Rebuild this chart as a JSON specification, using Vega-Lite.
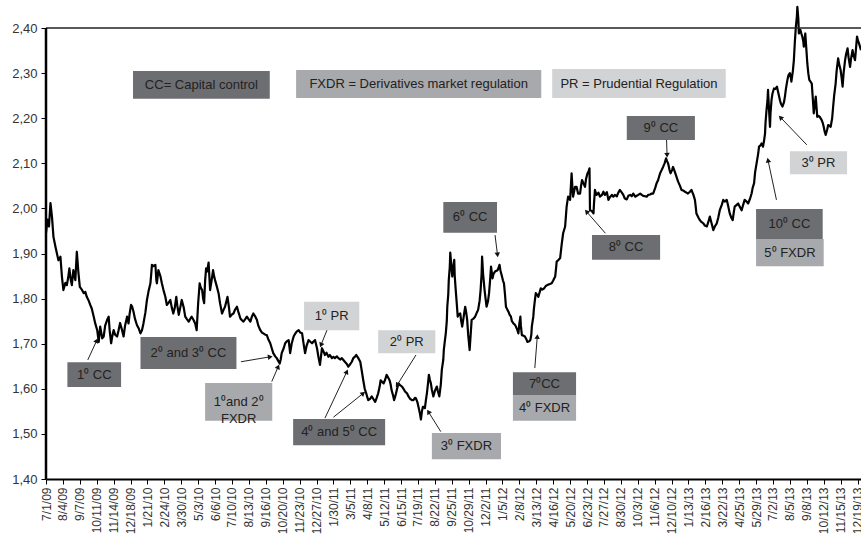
{
"$schema":"https://vega.github.io/schema/vega-lite/v6.json",
"width":815,"height":478,
"autosize":{"type":"none"},
"padding":{"left":46,"top":1,"right":0,"bottom":61},
"config":{"font":"Liberation Sans","view":{"stroke":null}},
"datasets":{
"brl":[
{"day":0,"rate":1.945},{"day":3,"rate":1.975},{"day":6,"rate":1.96},{"day":9,"rate":2.012},{"day":12,"rate":1.982},{"day":15,"rate":1.937},{"day":19,"rate":1.915},{"day":22,"rate":1.9},{"day":25,"rate":1.885},{"day":29,"rate":1.893},{"day":32,"rate":1.849},{"day":35,"rate":1.819},{"day":39,"rate":1.835},{"day":42,"rate":1.83},{"day":45,"rate":1.85},{"day":47,"rate":1.867},{"day":50,"rate":1.84},{"day":52,"rate":1.83},{"day":55,"rate":1.863},{"day":59,"rate":1.841},{"day":62,"rate":1.904},{"day":65,"rate":1.86},{"day":68,"rate":1.826},{"day":72,"rate":1.82},{"day":76,"rate":1.812},{"day":79,"rate":1.815},{"day":82,"rate":1.804},{"day":86,"rate":1.795},{"day":89,"rate":1.786},{"day":92,"rate":1.778},{"day":96,"rate":1.76},{"day":99,"rate":1.745},{"day":103,"rate":1.73},{"day":106,"rate":1.704},{"day":109,"rate":1.738},{"day":113,"rate":1.712},{"day":116,"rate":1.716},{"day":119,"rate":1.74},{"day":123,"rate":1.753},{"day":126,"rate":1.76},{"day":128,"rate":1.73},{"day":131,"rate":1.701},{"day":133,"rate":1.715},{"day":136,"rate":1.73},{"day":139,"rate":1.72},{"day":143,"rate":1.716},{"day":146,"rate":1.73},{"day":149,"rate":1.746},{"day":153,"rate":1.73},{"day":156,"rate":1.716},{"day":159,"rate":1.74},{"day":163,"rate":1.76},{"day":166,"rate":1.745},{"day":168,"rate":1.765},{"day":171,"rate":1.786},{"day":173,"rate":1.783},{"day":176,"rate":1.771},{"day":179,"rate":1.755},{"day":183,"rate":1.741},{"day":186,"rate":1.735},{"day":190,"rate":1.723},{"day":193,"rate":1.73},{"day":196,"rate":1.745},{"day":200,"rate":1.77},{"day":203,"rate":1.797},{"day":206,"rate":1.815},{"day":210,"rate":1.834},{"day":212,"rate":1.86},{"day":213,"rate":1.875},{"day":216,"rate":1.872},{"day":220,"rate":1.875},{"day":222,"rate":1.84},{"day":223,"rate":1.834},{"day":226,"rate":1.863},{"day":230,"rate":1.85},{"day":233,"rate":1.834},{"day":236,"rate":1.82},{"day":240,"rate":1.804},{"day":243,"rate":1.786},{"day":246,"rate":1.79},{"day":250,"rate":1.797},{"day":253,"rate":1.78},{"day":256,"rate":1.767},{"day":259,"rate":1.78},{"day":262,"rate":1.804},{"day":264,"rate":1.785},{"day":267,"rate":1.764},{"day":270,"rate":1.78},{"day":273,"rate":1.797},{"day":277,"rate":1.78},{"day":280,"rate":1.76},{"day":283,"rate":1.755},{"day":287,"rate":1.749},{"day":290,"rate":1.755},{"day":293,"rate":1.76},{"day":297,"rate":1.752},{"day":300,"rate":1.745},{"day":303,"rate":1.73},{"day":306,"rate":1.79},{"day":309,"rate":1.834},{"day":311,"rate":1.825},{"day":314,"rate":1.819},{"day":316,"rate":1.8},{"day":318,"rate":1.79},{"day":320,"rate":1.84},{"day":322,"rate":1.867},{"day":324,"rate":1.86},{"day":327,"rate":1.88},{"day":330,"rate":1.819},{"day":333,"rate":1.84},{"day":336,"rate":1.863},{"day":338,"rate":1.85},{"day":340,"rate":1.841},{"day":344,"rate":1.825},{"day":347,"rate":1.812},{"day":350,"rate":1.79},{"day":354,"rate":1.767},{"day":357,"rate":1.775},{"day":360,"rate":1.782},{"day":363,"rate":1.795},{"day":365,"rate":1.804},{"day":368,"rate":1.78},{"day":370,"rate":1.76},{"day":374,"rate":1.765},{"day":377,"rate":1.767},{"day":380,"rate":1.775},{"day":384,"rate":1.782},{"day":387,"rate":1.77},{"day":391,"rate":1.756},{"day":394,"rate":1.752},{"day":397,"rate":1.749},{"day":401,"rate":1.755},{"day":404,"rate":1.76},{"day":407,"rate":1.755},{"day":411,"rate":1.749},{"day":414,"rate":1.76},{"day":417,"rate":1.767},{"day":421,"rate":1.76},{"day":424,"rate":1.753},{"day":427,"rate":1.74},{"day":431,"rate":1.73},{"day":434,"rate":1.725},{"day":437,"rate":1.723},{"day":441,"rate":1.72},{"day":444,"rate":1.719},{"day":447,"rate":1.71},{"day":451,"rate":1.701},{"day":454,"rate":1.69},{"day":457,"rate":1.679},{"day":461,"rate":1.672},{"day":464,"rate":1.668},{"day":467,"rate":1.662},{"day":470,"rate":1.656},{"day":472,"rate":1.665},{"day":474,"rate":1.679},{"day":478,"rate":1.69},{"day":481,"rate":1.701},{"day":484,"rate":1.705},{"day":488,"rate":1.708},{"day":491,"rate":1.679},{"day":494,"rate":1.7},{"day":498,"rate":1.716},{"day":501,"rate":1.722},{"day":504,"rate":1.727},{"day":508,"rate":1.73},{"day":511,"rate":1.725},{"day":515,"rate":1.723},{"day":518,"rate":1.7},{"day":521,"rate":1.679},{"day":524,"rate":1.695},{"day":528,"rate":1.708},{"day":531,"rate":1.705},{"day":535,"rate":1.701},{"day":538,"rate":1.705},{"day":541,"rate":1.708},{"day":545,"rate":1.69},{"day":548,"rate":1.67},{"day":551,"rate":1.653},{"day":555,"rate":1.69},{"day":558,"rate":1.683},{"day":561,"rate":1.675},{"day":564,"rate":1.68},{"day":568,"rate":1.671},{"day":571,"rate":1.675},{"day":575,"rate":1.668},{"day":578,"rate":1.671},{"day":581,"rate":1.668},{"day":585,"rate":1.672},{"day":588,"rate":1.668},{"day":592,"rate":1.665},{"day":595,"rate":1.668},{"day":598,"rate":1.664},{"day":601,"rate":1.66},{"day":605,"rate":1.655},{"day":608,"rate":1.649},{"day":612,"rate":1.655},{"day":615,"rate":1.66},{"day":618,"rate":1.668},{"day":622,"rate":1.672},{"day":624,"rate":1.675},{"day":628,"rate":1.668},{"day":632,"rate":1.66},{"day":635,"rate":1.64},{"day":638,"rate":1.619},{"day":641,"rate":1.6},{"day":644,"rate":1.59},{"day":646,"rate":1.582},{"day":648,"rate":1.575},{"day":652,"rate":1.578},{"day":655,"rate":1.583},{"day":658,"rate":1.578},{"day":662,"rate":1.571},{"day":665,"rate":1.58},{"day":668,"rate":1.59},{"day":671,"rate":1.605},{"day":673,"rate":1.619},{"day":676,"rate":1.615},{"day":679,"rate":1.612},{"day":682,"rate":1.62},{"day":685,"rate":1.631},{"day":688,"rate":1.625},{"day":691,"rate":1.619},{"day":693,"rate":1.61},{"day":695,"rate":1.597},{"day":698,"rate":1.585},{"day":700,"rate":1.575},{"day":702,"rate":1.582},{"day":704,"rate":1.59},{"day":706,"rate":1.6},{"day":709,"rate":1.612},{"day":712,"rate":1.608},{"day":716,"rate":1.605},{"day":719,"rate":1.6},{"day":722,"rate":1.594},{"day":726,"rate":1.59},{"day":729,"rate":1.583},{"day":732,"rate":1.578},{"day":736,"rate":1.575},{"day":739,"rate":1.575},{"day":742,"rate":1.58},{"day":744,"rate":1.579},{"day":747,"rate":1.57},{"day":749,"rate":1.56},{"day":752,"rate":1.545},{"day":754,"rate":1.532},{"day":756,"rate":1.55},{"day":758,"rate":1.56},{"day":760,"rate":1.56},{"day":762,"rate":1.557},{"day":764,"rate":1.575},{"day":766,"rate":1.59},{"day":768,"rate":1.61},{"day":770,"rate":1.631},{"day":772,"rate":1.62},{"day":774,"rate":1.612},{"day":776,"rate":1.598},{"day":779,"rate":1.583},{"day":782,"rate":1.595},{"day":786,"rate":1.605},{"day":788,"rate":1.595},{"day":791,"rate":1.583},{"day":794,"rate":1.61},{"day":796,"rate":1.642},{"day":799,"rate":1.665},{"day":800,"rate":1.686},{"day":802,"rate":1.705},{"day":804,"rate":1.723},{"day":806,"rate":1.75},{"day":807,"rate":1.782},{"day":809,"rate":1.81},{"day":810,"rate":1.841},{"day":812,"rate":1.87},{"day":813,"rate":1.902},{"day":815,"rate":1.875},{"day":817,"rate":1.849},{"day":819,"rate":1.87},{"day":821,"rate":1.886},{"day":822,"rate":1.85},{"day":824,"rate":1.819},{"day":826,"rate":1.79},{"day":828,"rate":1.76},{"day":830,"rate":1.765},{"day":833,"rate":1.767},{"day":835,"rate":1.75},{"day":837,"rate":1.738},{"day":840,"rate":1.76},{"day":843,"rate":1.782},{"day":845,"rate":1.77},{"day":847,"rate":1.753},{"day":849,"rate":1.72},{"day":852,"rate":1.686},{"day":854,"rate":1.72},{"day":856,"rate":1.753},{"day":859,"rate":1.755},{"day":863,"rate":1.76},{"day":866,"rate":1.768},{"day":869,"rate":1.775},{"day":872,"rate":1.795},{"day":874,"rate":1.819},{"day":876,"rate":1.855},{"day":877,"rate":1.893},{"day":879,"rate":1.855},{"day":882,"rate":1.819},{"day":884,"rate":1.8},{"day":886,"rate":1.782},{"day":889,"rate":1.795},{"day":891,"rate":1.812},{"day":893,"rate":1.84},{"day":895,"rate":1.871},{"day":898,"rate":1.845},{"day":900,"rate":1.855},{"day":903,"rate":1.86},{"day":908,"rate":1.863},{"day":910,"rate":1.868},{"day":912,"rate":1.875},{"day":914,"rate":1.862},{"day":917,"rate":1.849},{"day":919,"rate":1.84},{"day":921,"rate":1.834},{"day":923,"rate":1.81},{"day":925,"rate":1.782},{"day":928,"rate":1.775},{"day":930,"rate":1.771},{"day":932,"rate":1.765},{"day":935,"rate":1.76},{"day":937,"rate":1.75},{"day":940,"rate":1.745},{"day":943,"rate":1.742},{"day":945,"rate":1.738},{"day":948,"rate":1.73},{"day":950,"rate":1.723},{"day":952,"rate":1.745},{"day":954,"rate":1.76},{"day":955,"rate":1.74},{"day":957,"rate":1.719},{"day":960,"rate":1.718},{"day":963,"rate":1.716},{"day":966,"rate":1.71},{"day":968,"rate":1.704},{"day":971,"rate":1.705},{"day":974,"rate":1.708},{"day":976,"rate":1.72},{"day":977,"rate":1.738},{"day":980,"rate":1.76},{"day":981,"rate":1.775},{"day":983,"rate":1.795},{"day":985,"rate":1.812},{"day":988,"rate":1.808},{"day":990,"rate":1.804},{"day":993,"rate":1.815},{"day":995,"rate":1.823},{"day":998,"rate":1.82},{"day":1002,"rate":1.823},{"day":1005,"rate":1.828},{"day":1008,"rate":1.83},{"day":1012,"rate":1.832},{"day":1017,"rate":1.834},{"day":1020,"rate":1.84},{"day":1024,"rate":1.849},{"day":1026,"rate":1.87},{"day":1027,"rate":1.882},{"day":1030,"rate":1.885},{"day":1034,"rate":1.89},{"day":1037,"rate":1.92},{"day":1040,"rate":1.945},{"day":1044,"rate":1.96},{"day":1047,"rate":2.004},{"day":1050,"rate":2.026},{"day":1054,"rate":2.019},{"day":1057,"rate":2.078},{"day":1059,"rate":2.04},{"day":1060,"rate":2.026},{"day":1064,"rate":2.048},{"day":1067,"rate":2.048},{"day":1070,"rate":2.033},{"day":1074,"rate":2.033},{"day":1076,"rate":2.05},{"day":1078,"rate":2.063},{"day":1081,"rate":2.055},{"day":1084,"rate":2.048},{"day":1086,"rate":2.065},{"day":1089,"rate":2.078},{"day":1091,"rate":2.082},{"day":1093,"rate":2.089},{"day":1094,"rate":1.996},{"day":1097,"rate":1.995},{"day":1101,"rate":1.989},{"day":1102,"rate":2.01},{"day":1104,"rate":2.041},{"day":1107,"rate":2.03},{"day":1111,"rate":2.035},{"day":1114,"rate":2.026},{"day":1118,"rate":2.03},{"day":1121,"rate":2.037},{"day":1124,"rate":2.03},{"day":1128,"rate":2.036},{"day":1131,"rate":2.019},{"day":1134,"rate":2.025},{"day":1138,"rate":2.03},{"day":1141,"rate":2.026},{"day":1144,"rate":2.03},{"day":1148,"rate":2.027},{"day":1151,"rate":2.035},{"day":1154,"rate":2.041},{"day":1158,"rate":2.035},{"day":1161,"rate":2.03},{"day":1164,"rate":2.022},{"day":1168,"rate":2.02},{"day":1171,"rate":2.028},{"day":1175,"rate":2.03},{"day":1178,"rate":2.027},{"day":1181,"rate":2.033},{"day":1185,"rate":2.026},{"day":1188,"rate":2.028},{"day":1191,"rate":2.03},{"day":1195,"rate":2.033},{"day":1198,"rate":2.03},{"day":1201,"rate":2.028},{"day":1205,"rate":2.027},{"day":1208,"rate":2.026},{"day":1211,"rate":2.03},{"day":1215,"rate":2.031},{"day":1218,"rate":2.033},{"day":1221,"rate":2.033},{"day":1225,"rate":2.045},{"day":1228,"rate":2.056},{"day":1231,"rate":2.063},{"day":1235,"rate":2.078},{"day":1238,"rate":2.085},{"day":1241,"rate":2.092},{"day":1244,"rate":2.1},{"day":1247,"rate":2.111},{"day":1249,"rate":2.105},{"day":1251,"rate":2.1},{"day":1254,"rate":2.085},{"day":1256,"rate":2.078},{"day":1259,"rate":2.085},{"day":1261,"rate":2.092},{"day":1265,"rate":2.08},{"day":1268,"rate":2.07},{"day":1271,"rate":2.06},{"day":1275,"rate":2.05},{"day":1278,"rate":2.041},{"day":1281,"rate":2.04},{"day":1285,"rate":2.037},{"day":1288,"rate":2.035},{"day":1291,"rate":2.033},{"day":1295,"rate":2.037},{"day":1298,"rate":2.041},{"day":1302,"rate":2.03},{"day":1305,"rate":2.019},{"day":1307,"rate":2.0},{"day":1308,"rate":1.989},{"day":1312,"rate":1.98},{"day":1315,"rate":1.974},{"day":1318,"rate":1.97},{"day":1322,"rate":1.967},{"day":1325,"rate":1.962},{"day":1329,"rate":1.96},{"day":1332,"rate":1.97},{"day":1335,"rate":1.982},{"day":1339,"rate":1.965},{"day":1342,"rate":1.952},{"day":1345,"rate":1.96},{"day":1349,"rate":1.967},{"day":1352,"rate":1.98},{"day":1355,"rate":1.996},{"day":1359,"rate":2.008},{"day":1362,"rate":2.019},{"day":1365,"rate":2.015},{"day":1369,"rate":2.019},{"day":1372,"rate":2.005},{"day":1375,"rate":1.989},{"day":1378,"rate":1.98},{"day":1381,"rate":1.974},{"day":1383,"rate":1.99},{"day":1385,"rate":2.004},{"day":1389,"rate":2.008},{"day":1392,"rate":2.011},{"day":1395,"rate":2.004},{"day":1399,"rate":1.996},{"day":1402,"rate":2.008},{"day":1405,"rate":2.019},{"day":1409,"rate":2.015},{"day":1412,"rate":2.011},{"day":1416,"rate":2.022},{"day":1419,"rate":2.033},{"day":1421,"rate":2.045},{"day":1424,"rate":2.056},{"day":1426,"rate":2.08},{"day":1429,"rate":2.1},{"day":1432,"rate":2.12},{"day":1434,"rate":2.137},{"day":1437,"rate":2.14},{"day":1439,"rate":2.144},{"day":1442,"rate":2.137},{"day":1444,"rate":2.15},{"day":1446,"rate":2.166},{"day":1447,"rate":2.19},{"day":1449,"rate":2.218},{"day":1451,"rate":2.24},{"day":1452,"rate":2.263},{"day":1454,"rate":2.22},{"day":1456,"rate":2.181},{"day":1457,"rate":2.21},{"day":1459,"rate":2.24},{"day":1461,"rate":2.255},{"day":1464,"rate":2.266},{"day":1467,"rate":2.265},{"day":1470,"rate":2.27},{"day":1473,"rate":2.255},{"day":1476,"rate":2.24},{"day":1478,"rate":2.232},{"day":1481,"rate":2.226},{"day":1484,"rate":2.235},{"day":1486,"rate":2.248},{"day":1488,"rate":2.265},{"day":1491,"rate":2.285},{"day":1493,"rate":2.295},{"day":1496,"rate":2.3},{"day":1498,"rate":2.29},{"day":1499,"rate":2.281},{"day":1502,"rate":2.305},{"day":1504,"rate":2.329},{"day":1506,"rate":2.37},{"day":1508,"rate":2.403},{"day":1510,"rate":2.425},{"day":1511,"rate":2.447},{"day":1513,"rate":2.42},{"day":1514,"rate":2.388},{"day":1516,"rate":2.392},{"day":1517,"rate":2.396},{"day":1519,"rate":2.388},{"day":1521,"rate":2.381},{"day":1523,"rate":2.37},{"day":1524,"rate":2.359},{"day":1527,"rate":2.388},{"day":1529,"rate":2.355},{"day":1531,"rate":2.322},{"day":1533,"rate":2.3},{"day":1535,"rate":2.285},{"day":1537,"rate":2.282},{"day":1540,"rate":2.277},{"day":1542,"rate":2.245},{"day":1544,"rate":2.211},{"day":1548,"rate":2.248},{"day":1551,"rate":2.203},{"day":1554,"rate":2.205},{"day":1556,"rate":2.203},{"day":1560,"rate":2.196},{"day":1562,"rate":2.19},{"day":1564,"rate":2.181},{"day":1566,"rate":2.17},{"day":1568,"rate":2.163},{"day":1571,"rate":2.175},{"day":1573,"rate":2.185},{"day":1576,"rate":2.183},{"day":1578,"rate":2.181},{"day":1581,"rate":2.2},{"day":1583,"rate":2.226},{"day":1585,"rate":2.25},{"day":1588,"rate":2.277},{"day":1590,"rate":2.305},{"day":1593,"rate":2.333},{"day":1595,"rate":2.32},{"day":1598,"rate":2.307},{"day":1600,"rate":2.29},{"day":1602,"rate":2.27},{"day":1604,"rate":2.3},{"day":1607,"rate":2.329},{"day":1609,"rate":2.342},{"day":1612,"rate":2.355},{"day":1614,"rate":2.335},{"day":1617,"rate":2.314},{"day":1619,"rate":2.332},{"day":1622,"rate":2.351},{"day":1624,"rate":2.34},{"day":1627,"rate":2.329},{"day":1629,"rate":2.355},{"day":1631,"rate":2.381},{"day":1633,"rate":2.372},{"day":1635,"rate":2.366},{"day":1639,"rate":2.351}
],
"boxes":[
{"type":"CC","x1":175,"x2":450,"y1":2.305,"y2":2.243,"label":"CC= Capital control"},
{"type":"FXDR","x1":503,"x2":996,"y1":2.307,"y2":2.245,"label":"FXDR = Derivatives market regulation"},
{"type":"PR","x1":1018,"x2":1367,"y1":2.309,"y2":2.245,"label":"PR = Prudential Regulation"},
{"type":"CC","x1":43,"x2":151,"y1":1.659,"y2":1.604,"label":"1⁰ CC"},
{"type":"CC","x1":190,"x2":383,"y1":1.715,"y2":1.644,"label":"2⁰ and 3⁰ CC"},
{"type":"FXDR","x1":320,"x2":455,"y1":1.613,"y2":1.529,"label":"1⁰and 2⁰\nFXDR"},
{"type":"PR","x1":519,"x2":630,"y1":1.793,"y2":1.73,"label":"1⁰ PR"},
{"type":"CC","x1":497,"x2":682,"y1":1.533,"y2":1.475,"label":"4⁰ and 5⁰ CC"},
{"type":"PR","x1":668,"x2":783,"y1":1.73,"y2":1.679,"label":"2⁰ PR"},
{"type":"FXDR","x1":776,"x2":915,"y1":1.502,"y2":1.444,"label":"3⁰ FXDR"},
{"type":"CC","x1":799,"x2":907,"y1":2.014,"y2":1.946,"label":"6⁰ CC"},
{"type":"CC","x1":939,"x2":1066,"y1":1.637,"y2":1.586,"label":"7⁰CC"},
{"type":"FXDR","x1":939,"x2":1066,"y1":1.586,"y2":1.529,"label":"4⁰ FXDR"},
{"type":"CC","x1":1098,"x2":1235,"y1":1.941,"y2":1.886,"label":"8⁰ CC"},
{"type":"CC","x1":1168,"x2":1305,"y1":2.205,"y2":2.152,"label":"9⁰ CC"},
{"type":"CC","x1":1428,"x2":1562,"y1":1.999,"y2":1.932,"label":"10⁰ CC"},
{"type":"FXDR","x1":1428,"x2":1564,"y1":1.932,"y2":1.872,"label":"5⁰ FXDR"},
{"type":"PR","x1":1496,"x2":1611,"y1":2.127,"y2":2.076,"label":"3⁰ PR"}
],
"arrows":[
{"x1":84,"y1":1.664,"x2":102,"y2":1.707},
{"x1":392,"y1":1.66,"x2":451,"y2":1.671},
{"x1":454,"y1":1.616,"x2":467,"y2":1.649},
{"x1":565,"y1":1.73,"x2":553,"y2":1.697},
{"x1":561,"y1":1.535,"x2":605,"y2":1.638},
{"x1":578,"y1":1.537,"x2":638,"y2":1.59},
{"x1":744,"y1":1.675,"x2":706,"y2":1.608},
{"x1":794,"y1":1.505,"x2":769,"y2":1.549},
{"x1":903,"y1":1.941,"x2":908,"y2":1.897},
{"x1":983,"y1":1.646,"x2":988,"y2":1.716},
{"x1":1125,"y1":1.945,"x2":1087,"y2":1.993},
{"x1":1248,"y1":2.152,"x2":1249,"y2":2.118},
{"x1":1469,"y1":2.019,"x2":1452,"y2":2.107},
{"x1":1530,"y1":2.141,"x2":1477,"y2":2.202}
]
},
"layer":[
{"data":{"name":"brl"},"mark":{"type":"line","color":"#000","strokeWidth":2.2,"strokeJoin":"round"},
 "encoding":{
  "x":{"field":"day","type":"quantitative","title":null,
   "scale":{"domain":[0,1639],"nice":false,"zero":false},
   "axis":{"values":[0,34,68,102,136,170,204,238,272,306,340,374,408,442,476,510,544,578,612,646,680,714,748,782,816,850,884,918,952,986,1020,1054,1088,1122,1156,1190,1224,1258,1292,1326,1360,1394,1428,1462,1496,1530,1564,1598,1632],
    "tickCount":100,
    "labelExpr":"timeFormat(datetime(2009,6,1+datum.value),'%-m/%-d/%y')",
    "labelAngle":-90,"labelFontSize":12,"labelColor":"#333","labelPadding":3,"labelOverlap":false,"labelFlush":false,"labelBound":false,
    "tickColor":"#000","tickSize":5,"domainColor":"#000","domainWidth":2,"grid":false,"title":null}},
  "y":{"field":"rate","type":"quantitative","title":null,
   "scale":{"domain":[1.4,2.46],"nice":false,"zero":false},
   "axis":{"values":[1.4,1.5,1.6,1.7,1.8,1.9,2.0,2.1,2.2,2.3,2.4],
    "tickCount":20,
    "labelExpr":"replace(format(datum.value,'.2f'),'.',',')",
    "labelFontSize":13,"labelColor":"#333","labelPadding":4,
    "domain":false,"tickColor":"#000","tickSize":5,"grid":false,"title":null}}}},
{"data":{"values":[{}]},"mark":{"type":"rule","color":"#222","strokeWidth":1.5},
 "encoding":{"y":{"datum":2.4,"type":"quantitative"}}},
{"data":{"name":"boxes"},"mark":{"type":"rect"},
 "encoding":{
  "x":{"field":"x1","type":"quantitative","title":null},
  "x2":{"field":"x2"},
  "y":{"field":"y1","type":"quantitative","title":null},
  "y2":{"field":"y2"},
  "color":{"field":"type","type":"nominal","scale":{"domain":["CC","FXDR","PR"],"range":["#6d6e71","#a7a9ac","#d1d3d4"]},"legend":null}}},
{"data":{"name":"boxes"},
 "transform":[{"calculate":"(datum.x1+datum.x2)/2","as":"cx"},{"calculate":"(datum.y1+datum.y2)/2","as":"cy"}],
 "mark":{"type":"text","fontSize":13,"color":"#222","align":"center","baseline":"middle","lineBreak":"\n","lineHeight":17},
 "encoding":{
  "x":{"field":"cx","type":"quantitative","title":null},
  "y":{"field":"cy","type":"quantitative","title":null},
  "text":{"field":"label"}}},
{"data":{"values":[{}]},"mark":{"type":"rule","color":"#000","strokeWidth":2.5},
 "encoding":{"x":{"datum":0,"type":"quantitative"},"y":{"datum":1.4,"type":"quantitative"},"y2":{"datum":2.4}}},
{"data":{"name":"arrows"},"mark":{"type":"rule","color":"#222","strokeWidth":1},
 "encoding":{
  "x":{"field":"x1","type":"quantitative","title":null},
  "y":{"field":"y1","type":"quantitative","title":null},
  "x2":{"field":"x2"},"y2":{"field":"y2"}}},
{"data":{"name":"arrows"},
 "transform":[{"calculate":"atan2((datum.x2-datum.x1)*0.4975,(datum.y2-datum.y1)*451)*180/PI","as":"ang"}],
 "mark":{"type":"point","shape":"triangle-up","filled":true,"size":30,"color":"#111","opacity":1},
 "encoding":{
  "x":{"field":"x2","type":"quantitative","title":null},
  "y":{"field":"y2","type":"quantitative","title":null},
  "angle":{"field":"ang","type":"quantitative","scale":null}}}
]
}
